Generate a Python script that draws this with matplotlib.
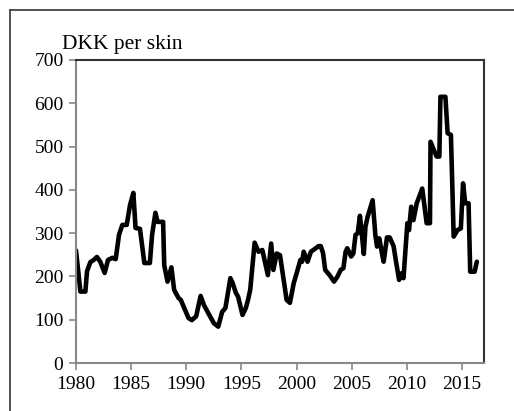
import matplotlib.pyplot as plt
from matplotlib.lines import Line2D

# Mink skin auction prices, DKK per skin
years = [
    1980.0, 1980.4, 1980.85, 1981.0, 1981.3, 1981.6, 1981.9, 1982.2, 1982.6, 1982.9,
    1983.3, 1983.6, 1983.9, 1984.2, 1984.6, 1984.9, 1985.2, 1985.4, 1985.8, 1986.2,
    1986.7, 1986.9, 1987.2, 1987.4, 1987.9, 1988.0, 1988.3, 1988.65, 1988.9, 1989.3,
    1989.5, 1990.2, 1990.5, 1990.9, 1991.3, 1991.6, 1992.0, 1992.5, 1992.9, 1993.25,
    1993.55, 1994.0, 1994.2, 1994.5, 1994.7, 1995.1, 1995.4, 1995.6, 1995.8, 1996.2,
    1996.55, 1996.9, 1997.4, 1997.7, 1997.9, 1998.2, 1998.5, 1999.1, 1999.4, 1999.75,
    2000.05, 2000.35, 2000.5, 2000.65, 2001.0, 2001.3, 2002.0, 2002.2, 2002.4, 2002.6,
    2003.0, 2003.4, 2003.7, 2004.0, 2004.25, 2004.45, 2004.6, 2004.95, 2005.15, 2005.35,
    2005.55, 2005.75, 2006.1, 2006.25, 2006.45, 2006.9, 2007.15, 2007.3, 2007.5, 2007.8,
    2007.9, 2008.2, 2008.45, 2008.8, 2009.05, 2009.3, 2009.5, 2009.7, 2009.9, 2010.05,
    2010.2, 2010.4, 2010.6, 2010.9, 2011.4, 2011.8, 2012.1, 2012.15, 2012.7, 2012.95,
    2013.05, 2013.5, 2013.7, 2014.0, 2014.25, 2014.6, 2014.9, 2015.1, 2015.3, 2015.6,
    2015.75, 2016.15, 2016.35,
]
prices = [
    260, 165, 165, 212, 233, 238, 245, 234, 208, 238,
    243, 240, 296, 319, 319, 365, 393, 312, 310, 231,
    231, 296, 347, 326, 326, 226, 188, 221, 169, 150,
    146, 104, 99, 108, 155, 134, 115, 92, 84, 118,
    127, 196, 185, 162, 153, 111, 127, 146, 169, 278,
    257, 261, 203, 276, 215, 253, 249, 146, 139, 185,
    211, 238, 234, 257, 234, 257, 270, 270, 254, 215,
    203, 188, 199, 215, 219, 257, 265, 246, 253, 296,
    300, 340, 252, 315, 338, 376, 295, 269, 288, 246,
    234, 290, 290, 270, 230, 192, 207, 196, 269, 323,
    307, 361, 330, 369, 403, 323, 323, 511, 477, 477,
    615, 615, 531, 527, 292, 307, 311, 415, 369, 369,
    211, 211, 234,
]

x_ticks = [1980, 1985, 1990, 1995, 2000, 2005, 2010, 2015]
y_ticks = [0, 100, 200, 300, 400, 500, 600, 700]

plt.rcParams['font.family'] = ['Liberation Serif', 'DejaVu Serif']

fig = plt.figure(figsize=(5.14, 4.11), dpi=100)
ax = fig.add_axes([76 / 514, 48 / 411, 408 / 514, 303 / 411])

ax.plot(years, prices, color='black', linewidth=3.3,
        solid_joinstyle='round', solid_capstyle='round')

ax.set_xlim(1980, 2017)
ax.set_ylim(0, 700)
ax.set_xticks(x_ticks)
ax.set_yticks(y_ticks)
ax.tick_params(axis='both', direction='out', length=5, width=1.2,
               color='#888888', labelsize=14, pad=4)

for side in ['left', 'bottom']:
    ax.spines[side].set_color('#888888')
    ax.spines[side].set_linewidth(1.5)
for side in ['top', 'right']:
    ax.spines[side].set_color('#333333')
    ax.spines[side].set_linewidth(1.5)

ax.text(62 / 514, 362 / 411, 'DKK per skin', transform=fig.transFigure,
        fontsize=15.5, ha='left', va='baseline')

# outer chart frame (top and left edges)
fig.add_artist(Line2D([10 / 514, 1.0], [1 - 10 / 411, 1 - 10 / 411],
                      transform=fig.transFigure, color='#444444', linewidth=1.3))
fig.add_artist(Line2D([10 / 514, 10 / 514], [0.0, 1 - 10 / 411],
                      transform=fig.transFigure, color='#444444', linewidth=1.3))

fig.savefig('out.png', dpi=100)
